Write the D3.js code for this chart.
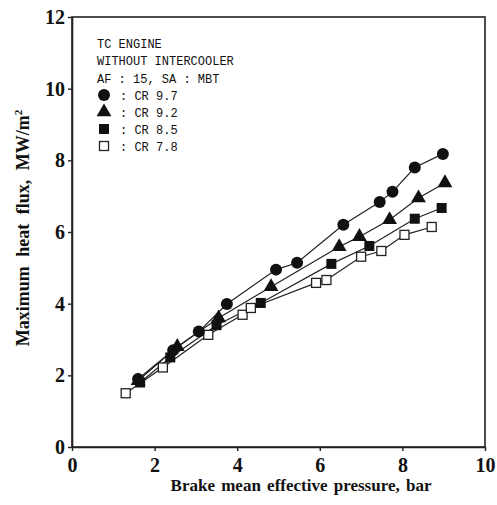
<html><head>
<script src="https://d3js.org/d3.v7.min.js"></script>
<style>
  body { margin: 0; background: #fff; }
</style>
</head>
<body>
<svg id="chart" width="497" height="505"></svg>
<script>
// values
const xTicks = [0, 2, 4, 6, 8, 10];
const yTicks = [0, 2, 4, 6, 8, 10, 12];

const cr97 = [[1.6,1.9],[2.45,2.7],[3.07,3.22],[3.75,3.99],[4.94,4.95],[5.45,5.14],[6.57,6.2],[7.45,6.84],[7.76,7.12],[8.3,7.8],[8.98,8.18]];
const cr92 = [[1.6,1.85],[2.55,2.8],[3.55,3.6],[4.82,4.47],[6.47,5.59],[6.96,5.87],[7.69,6.34],[8.39,6.95],[9.03,7.37]];
const cr85 = [[1.65,1.8],[2.38,2.5],[3.5,3.4],[4.57,4.02],[6.28,5.11],[7.2,5.61],[8.3,6.37],[8.95,6.67]];
const cr78 = [[1.3,1.5],[2.2,2.22],[3.3,3.13],[4.13,3.69],[4.33,3.88],[5.91,4.58],[6.16,4.66],[7.0,5.31],[7.49,5.47],[8.05,5.92],[8.71,6.14]];

const headerLines = ["TC ENGINE", "WITHOUT INTERCOOLER", "AF : 15, SA : MBT"];
const seriesNames = [": CR 9.7", ": CR 9.2", ": CR 8.5", ": CR 7.8"];

let svg = d3.select("svg#chart");
let margin = {"top": 17, "right": 12, "bottom": 58, "left": 72};
let width = 485 - margin.left;
let height = 447 - margin.top;

let x = d3.scaleLinear().domain([0, 10]).range([0, width]);
let y = d3.scaleLinear().domain([0, 12]).range([height, 0]);

let g = svg.append("g")
    .attr("transform", "translate(" + margin.left + "," + margin.top + ")");

// frame
g.append("rect")
    .attr("x", 0).attr("y", 0)
    .attr("width", width).attr("height", height)
    .attr("fill", "none")
    .attr("stroke", "#222")
    .attr("stroke-width", 1.6);

let xAxis = g.append("g")
    .attr("transform", "translate(0," + height + ")")
    .call(d3.axisBottom(x).tickValues(xTicks).tickSize(4).tickSizeOuter(0).tickPadding(7));
let yAxis = g.append("g")
    .call(d3.axisLeft(y).tickValues(yTicks).tickSize(4).tickSizeOuter(0).tickPadding(3));

[xAxis, yAxis].forEach(a => {
    a.select(".domain").attr("stroke", "#222").attr("stroke-width", 1.6);
    a.selectAll(".tick line").attr("stroke", "#222").attr("stroke-width", 1.4);
    a.selectAll("text")
        .attr("fill", "#111")
        .style("font-family", "'Liberation Serif', 'DejaVu Serif', serif")
        .style("font-size", "20px")
        .style("font-weight", "bold");
});

// axis titles
svg.append("text")
    .attr("x", 301).attr("y", 491)
    .attr("text-anchor", "middle")
    .style("font-family", "'Liberation Serif', serif")
    .style("font-size", "17px")
    .style("font-weight", "bold")
    .style("word-spacing", "2px")
    .attr("fill", "#111")
    .text("Brake mean effective pressure, bar");

let yTitle = svg.append("text")
    .attr("transform", "translate(29,228) rotate(-90)")
    .attr("text-anchor", "middle")
    .style("font-family", "'Liberation Serif', serif")
    .style("font-size", "18px")
    .style("font-weight", "bold")
    .style("word-spacing", "5px")
    .attr("fill", "#111");
yTitle.append("tspan").text("Maximum heat flux, MW/m");
yTitle.append("tspan").attr("dy", -7).style("font-size", "11px").text("2");

// lines + markers
let line = d3.line().x(d => x(d[0])).y(d => y(d[1]));
let series = [
    {data: cr97, shape: "circle"},
    {data: cr92, shape: "triangle"},
    {data: cr85, shape: "square"},
    {data: cr78, shape: "open"}
];

function marker(sel, shape) {
    if (shape === "circle") {
        sel.append("circle").attr("r", 6).attr("fill", "#111");
    } else if (shape === "triangle") {
        sel.append("path").attr("d", d3.symbol().type(d3.symbolTriangle).size(95)).attr("fill", "#111");
    } else if (shape === "square") {
        sel.append("rect").attr("x", -5).attr("y", -5).attr("width", 10).attr("height", 10).attr("fill", "#111");
    } else {
        sel.append("rect").attr("x", -4.5).attr("y", -4.5).attr("width", 9).attr("height", 9)
            .attr("fill", "#fff").attr("stroke", "#222").attr("stroke-width", 1.3);
    }
}

series.forEach(s => {
    g.append("path")
        .datum(s.data)
        .attr("d", line)
        .attr("fill", "none")
        .attr("stroke", "#222")
        .attr("stroke-width", 1.2);
});
series.slice().reverse().forEach(s => {
    s.data.forEach(d => {
        let m = g.append("g").attr("transform", "translate(" + x(d[0]) + "," + y(d[1]) + ")");
        marker(m, s.shape);
    });
});

// legend block
let legend = svg.append("g")
    .style("font-family", "'Liberation Mono', 'DejaVu Sans Mono', monospace")
    .style("font-size", "12px")
    .attr("fill", "#111");
headerLines.forEach((t, i) => {
    legend.append("text").attr("x", 97).attr("y", 48 + i * 17.3).text(t);
});
seriesNames.forEach((t, i) => {
    let cy = 95 + i * 17;
    let m = legend.append("g").attr("transform", "translate(104," + cy + ")");
    marker(m, series[i].shape);
    legend.append("text").attr("x", 120).attr("y", cy + 5).text(t);
});
</script>
</body>
</html>
